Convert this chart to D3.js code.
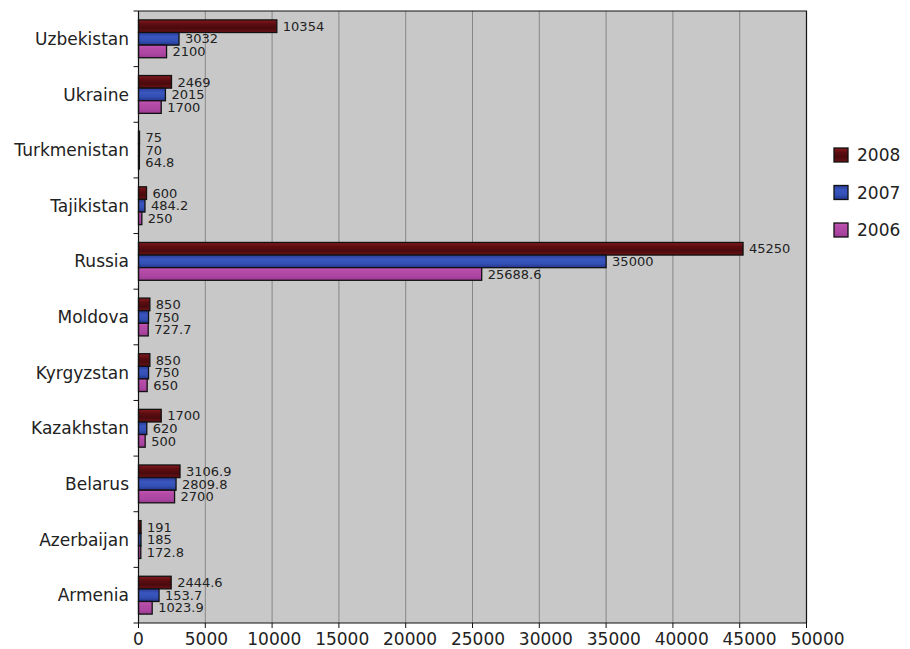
<!DOCTYPE html>
<html>
<head>
<meta charset="utf-8">
<script src="https://cdn.jsdelivr.net/npm/d3@7"></script>
<style>
html,body{margin:0;padding:0;background:#fff;}
svg{display:block;font-family:"DejaVu Sans",sans-serif;}
</style>
</head>
<body>
<svg id="chart" width="910" height="649"></svg>
<script>
const categories = ["Uzbekistan","Ukraine","Turkmenistan","Tajikistan","Russia","Moldova","Kyrgyzstan","Kazakhstan","Belarus","Azerbaijan","Armenia"];
const seriesNames = ["2008","2007","2006"];
const values2008 = [10354, 2469, 75, 600, 45250, 850, 850, 1700, 3106.9, 191, 2444.6];
const values2007 = [3032, 2015, 70, 484.2, 35000, 750, 750, 620, 2809.8, 185, 1537];
const values2006 = [2100, 1700, 64.8, 250, 25688.6, 727.7, 650, 500, 2700, 172.8, 1023.9];
const labels2008 = ["10354","2469","75","600","45250","850","850","1700","3106.9","191","2444.6"];
const labels2007 = ["3032","2015","70","484.2","35000","750","750","620","2809.8","185","153.7"];
const labels2006 = ["2100","1700","64.8","250","25688.6","727.7","650","500","2700","172.8","1023.9"];
const xTicks = [0,5000,10000,15000,20000,25000,30000,35000,40000,45000,50000];

const series = [
  {name: seriesNames[0], values: values2008, labels: labels2008, stops: ["#851a1e","#5c0d11","#4a0a0d","#6e1216"]},
  {name: seriesNames[1], values: values2007, labels: labels2007, stops: ["#2a3c98","#3a56bf","#3350b5","#24348a"]},
  {name: seriesNames[2], values: values2006, labels: labels2006, stops: ["#c255b4","#b24aa6","#ad46a2","#9a3a90"]}
];

const svg = d3.select("#chart");
const m = {left: 138.5, right: 806.5, top: 11, bottom: 623};

const x = d3.scaleLinear().domain([0, 50000]).range([m.left, m.right]);
const y = d3.scaleBand().domain(categories).range([m.top, m.bottom]).paddingInner(0.32).paddingOuter(0.16);
const yb = d3.scaleBand().domain(categories).range([m.top, m.bottom]);
const ys = d3.scaleBand().domain(seriesNames).range([0, y.bandwidth()]);

const defs = svg.append("defs");
series.forEach((s, i) => {
  const g = defs.append("linearGradient").attr("id", "g" + i).attr("x1", 0).attr("y1", 0).attr("x2", 0).attr("y2", 1);
  s.stops.forEach((c, j) => g.append("stop").attr("offset", j / (s.stops.length - 1)).attr("stop-color", c));
});

// plot background
svg.append("rect").attr("x", m.left).attr("y", m.top).attr("width", m.right - m.left).attr("height", m.bottom - m.top)
  .attr("fill", "#c8c8c8");

// gridlines
svg.append("g").selectAll("line").data(xTicks.slice(1, -1)).join("line")
  .attr("x1", d => x(d)).attr("x2", d => x(d)).attr("y1", m.top).attr("y2", m.bottom)
  .attr("stroke", "#878787").attr("stroke-width", 1);

// plot border top/right
svg.append("path").attr("d", `M${m.left},${m.top}H${m.right}V${m.bottom}`).attr("fill", "none").attr("stroke", "#111").attr("stroke-width", 1.2);

// bars
series.forEach((s, i) => {
  const g = svg.append("g");
  g.selectAll("rect").data(categories).join("rect")
    .attr("x", x(0))
    .attr("y", (c) => y(c) + ys(s.name))
    .attr("width", (c, k) => Math.max(0, x(s.values[k]) - x(0)))
    .attr("height", ys.bandwidth())
    .attr("fill", `url(#g${i})`)
    .attr("stroke", "#111").attr("stroke-width", 1.3);
  g.selectAll("text").data(categories).join("text")
    .attr("x", (c, k) => x(s.values[k]) + 6)
    .attr("y", (c) => y(c) + ys(s.name) + ys.bandwidth() / 2)
    .attr("dy", "0.36em")
    .attr("font-size", 13).attr("fill", "#222")
    .text((c, k) => s.labels[k]);
});

// y axis
const yAxis = svg.append("g");
yAxis.append("line").attr("x1", m.left).attr("x2", m.left).attr("y1", m.top).attr("y2", m.bottom).attr("stroke", "#111").attr("stroke-width", 1.2);
const bounds = categories.map(c => yb(c)).concat([m.bottom]);
yAxis.selectAll("line.t").data(bounds).join("line").attr("class", "t")
  .attr("x1", m.left - 5).attr("x2", m.left).attr("y1", d => d).attr("y2", d => d).attr("stroke", "#111");
yAxis.selectAll("text").data(categories).join("text")
  .attr("x", 129).attr("y", c => yb(c) + yb.bandwidth() / 2).attr("dy", "0.36em")
  .attr("text-anchor", "end").attr("font-size", 17).attr("fill", "#222").text(c => c);

// x axis
const xAxis = svg.append("g");
xAxis.append("line").attr("x1", m.left).attr("x2", m.right).attr("y1", m.bottom).attr("y2", m.bottom).attr("stroke", "#111").attr("stroke-width", 1.2);
xAxis.selectAll("line.t").data(xTicks).join("line").attr("class", "t")
  .attr("x1", d => x(d)).attr("x2", d => x(d)).attr("y1", m.bottom).attr("y2", m.bottom + 5).attr("stroke", "#111");
xAxis.selectAll("text").data(xTicks).join("text")
  .attr("x", (d, i) => x(d) + i * 1.1).attr("y", 645).attr("text-anchor", "middle")
  .attr("font-size", 17).attr("fill", "#222").text(d => d);

// legend
const lg = svg.append("g");
series.forEach((s, i) => {
  const cy = 155 + i * 37.5;
  lg.append("rect").attr("x", 834).attr("y", cy - 7).attr("width", 14).attr("height", 14)
    .attr("fill", `url(#g${i})`).attr("stroke", "#111").attr("stroke-width", 1.3);
  lg.append("text").attr("x", 857).attr("y", cy).attr("dy", "0.36em").attr("font-size", 17).attr("fill", "#222").text(s.name);
});
</script>
</body>
</html>
